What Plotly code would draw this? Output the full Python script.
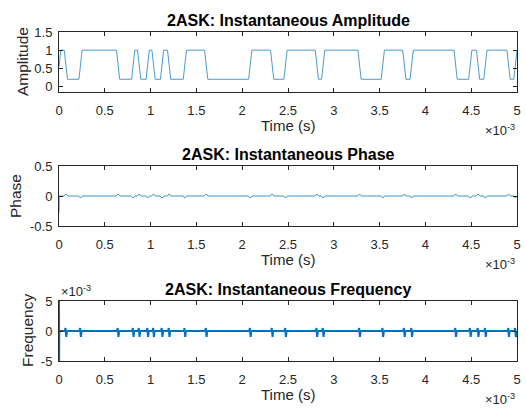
import plotly.graph_objects as go

# ---------------- data ----------------
# transition mid-times of the 2ASK envelope, in milliseconds
edge_times_ms = [0.075, 0.235, 0.645, 0.810, 0.875, 0.968, 1.032, 1.125, 1.202,
                 1.374, 1.607, 2.088, 2.327, 2.473, 2.815, 2.884, 3.281, 3.535,
                 3.770, 3.850, 4.330, 4.490, 4.575, 4.655, 4.908, 4.983]
edge_kinds = ["fall", "rise"] * 13

amp_high = 1.0
amp_low = 0.2
amp_start = [0.55, 1.0]           # value at t=0 and after the initial transient
amp_start_t_ms = [0.0, 0.02]
ramp_ms = 0.035                   # duration of one envelope transition

phase_start = [-0.28, 0.0]
phase_start_t_ms = [0.0, 0.003]
phase_bump = {"fall": 0.035, "rise": -0.035}
phase_bump_ms = 0.02

freq_start = [0.006, -0.006, 0.0]
freq_start_t_ms = [0.0, 0.001, 0.003]
freq_spike_up = 0.5e-3
freq_spike_down = -1.0e-3
freq_spike_ms = 0.012

t_end_ms = 5.0

x_tick_vals_ms = [0, 0.5, 1, 1.5, 2, 2.5, 3, 3.5, 4, 4.5, 5]
x_tick_text = ["0", "0.5", "1", "1.5", "2", "2.5", "3", "3.5", "4", "4.5", "5"]
amp_ticks = [0, 0.5, 1, 1.5]
amp_tick_text = ["0", "0.5", "1", "1.5"]
phase_ticks = [-0.5, 0, 0.5]
phase_tick_text = ["-0.5", "0", "0.5"]
freq_ticks = [-5e-3, 0, 5e-3]
freq_tick_text = ["-5", "0", "5"]

titles = ["2ASK: Instantaneous Amplitude", "2ASK: Instantaneous Phase",
          "2ASK: Instantaneous Frequency"]
ylabels = ["Amplitude", "Phase", "Frequency"]

# ---------------- build polylines from the read values ----------------
amp_t = list(amp_start_t_ms)
amp_v = list(amp_start)
for e, k in zip(edge_times_ms, edge_kinds):
    prev, new = (amp_high, amp_low) if k == "fall" else (amp_low, amp_high)
    amp_t += [e - ramp_ms / 2, e + ramp_ms / 2]
    amp_v += [prev, new]
amp_t.append(t_end_ms)
amp_v.append(amp_v[-1])

ph_t = list(phase_start_t_ms)
ph_v = list(phase_start)
for e, k in zip(edge_times_ms, edge_kinds):
    ph_t += [e - phase_bump_ms, e, e + phase_bump_ms]
    ph_v += [0.0, phase_bump[k], 0.0]
ph_t.append(t_end_ms)
ph_v.append(0.0)

fr_t = list(freq_start_t_ms)
fr_v = list(freq_start)
for e in edge_times_ms:
    fr_t += [e - freq_spike_ms, e - freq_spike_ms / 3, e + freq_spike_ms / 3, e + freq_spike_ms]
    fr_v += [0.0, freq_spike_up, freq_spike_down, 0.0]
fr_t.append(t_end_ms)
fr_v.append(0.0)

to_s = lambda arr: [x * 1e-3 for x in arr]

# ---------------- figure ----------------
W, H = 526, 410
L, R, T, B = 59, 9, 32, 49
ph = H - T - B  # plot height in px
panel_tops = [32, 166, 301]
panel_h = 60
domains = []
for top in panel_tops:
    y0 = (H - B - (top + panel_h)) / ph
    y1 = (H - B - top) / ph
    domains.append([max(0, y0), min(1, y1)])

FONT = "Liberation Sans, Arial, sans-serif"
TXT = "#262626"
BLUE = "#0072BD"

fig = go.Figure()
fig.add_trace(go.Scatter(x=to_s(amp_t), y=amp_v, mode="lines",
                         line=dict(color=BLUE, width=1), opacity=0.7,
                         xaxis="x", yaxis="y", showlegend=False))
fig.add_trace(go.Scatter(x=to_s(ph_t), y=ph_v, mode="lines",
                         line=dict(color=BLUE, width=1), opacity=0.75,
                         xaxis="x2", yaxis="y2", showlegend=False))
fig.add_trace(go.Scatter(x=to_s(fr_t), y=fr_v, mode="lines",
                         line=dict(color=BLUE, width=2),
                         xaxis="x3", yaxis="y3", showlegend=False))

common_ax = dict(showline=True, linecolor=TXT, linewidth=1, mirror="ticks",
                 ticks="inside", ticklen=4, tickcolor=TXT, tickwidth=1,
                 showgrid=False, zeroline=False, automargin=False,
                 tickfont=dict(family=FONT, size=13, color=TXT))

yinfo = [([-0.15, 1.5], amp_ticks, amp_tick_text),
         ([-0.5, 0.5], phase_ticks, phase_tick_text),
         ([-5e-3, 5e-3], freq_ticks, freq_tick_text)]

layout = dict(width=W, height=H, margin=dict(l=L, r=R, t=T, b=B, autoexpand=False),
              paper_bgcolor="white", plot_bgcolor="white")
for i in range(3):
    sx = "" if i == 0 else str(i + 1)
    layout["xaxis" + sx] = dict(common_ax, domain=[0, 1],
                                range=[0, t_end_ms * 1e-3 * 1.000001],
                                tickvals=to_s(x_tick_vals_ms), ticktext=x_tick_text,
                                anchor="y" + sx, ticklabelstandoff=6)
    rng, tv, tt = yinfo[i]
    layout["yaxis" + sx] = dict(common_ax, domain=domains[i], range=rng,
                                tickvals=tv, ticktext=tt, anchor="x" + sx,
                                ticklabelstandoff=3)
fig.update_layout(**layout)

ylabel_shift = [-37, -44, -32]
for i in range(3):
    d0, d1 = domains[i]
    # title
    fig.add_annotation(text="<b>%s</b>" % titles[i], xref="paper", yref="paper",
                       x=0.5, y=d1, xanchor="center", yanchor="middle", yshift=12,
                       showarrow=False, font=dict(family=FONT, size=16, color="black"))
    # x label
    fig.add_annotation(text="Time (s)", xref="paper", yref="paper",
                       x=0.5, y=d0, xanchor="center", yanchor="middle", yshift=-33,
                       showarrow=False, font=dict(family=FONT, size=15, color=TXT))
    # x exponent
    fig.add_annotation(text="×10<sup>-3</sup>", xref="paper", yref="paper",
                       x=1, y=d0, xanchor="right", yanchor="middle", yshift=-38,
                       showarrow=False, font=dict(family=FONT, size=13, color=TXT))
    # y label
    fig.add_annotation(text=ylabels[i], xref="paper", yref="paper", textangle=-90,
                       x=0, y=(d0 + d1) / 2, xanchor="center", yanchor="middle",
                       xshift=ylabel_shift[i], showarrow=False,
                       font=dict(family=FONT, size=15.5, color=TXT))

# y exponent of the frequency panel
fig.add_annotation(text="×10<sup>-3</sup>", xref="paper", yref="paper",
                   x=0, y=domains[2][1], xanchor="left", yanchor="middle", yshift=10,
                   showarrow=False, font=dict(family=FONT, size=13, color=TXT))

fig.write_html("out.html", config={"displayModeBar": False},
               post_script="document.body.style.margin='0';"
                           "document.body.style.overflow='hidden';")
